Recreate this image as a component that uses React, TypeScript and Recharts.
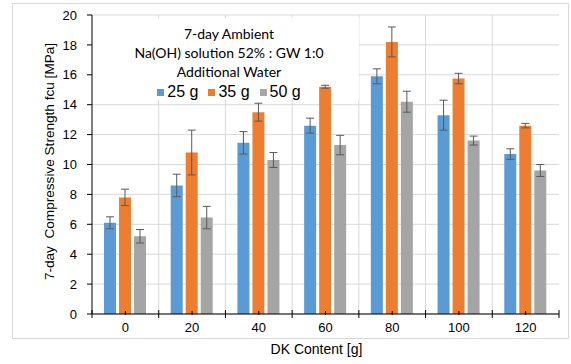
import React from 'react';
import { ComposedChart, Bar, ErrorBar, XAxis, YAxis, CartesianGrid, Legend, ReferenceArea } from 'recharts';

const categories = ['0', '20', '40', '60', '80', '100', '120'];
const water25 = [6.1, 8.6, 11.45, 12.6, 15.9, 13.3, 10.7];
const water35 = [7.8, 10.8, 13.5, 15.2, 18.2, 15.75, 12.6];
const water50 = [5.2, 6.45, 10.3, 11.3, 14.2, 11.6, 9.6];
const err25 = [0.4, 0.75, 0.75, 0.5, 0.5, 1.0, 0.35];
const err35 = [0.55, 1.5, 0.6, 0.1, 1.0, 0.35, 0.15];
const err50 = [0.45, 0.75, 0.5, 0.65, 0.7, 0.3, 0.4];
const yTicks = [0, 2, 4, 6, 8, 10, 12, 14, 16, 18, 20];
const minorTicks = Array.from({ length: 51 }, (_, i) => Math.round(i * 4) / 10);
const titleLines = ['7-day Ambient', 'Na(OH) solution 52% : GW 1:0', 'Additional Water'];
const seriesNames = ['25 g', '35 g', '50 g'];
const colors = ['#5B9BD5', '#ED7D31', '#A5A5A5'];

const data = categories.map((c, i) => ({
  dk: c,
  s25: water25[i],
  s35: water35[i],
  s50: water50[i],
  e25: err25[i],
  e35: err35[i],
  e50: err50[i],
}));

const XTick = (props: any) => {
  const { x, y, payload, index } = props;
  const half = payload.offset || 0;
  return (
    <g>
      <line x1={x} x2={x} y1={y - 3} y2={y + 1} stroke="#000" />
      <line x1={x - half} x2={x - half} y1={y - 4} y2={y + 4} stroke="#000" />
      {index === categories.length - 1 && (
        <line x1={x + half} x2={x + half} y1={y - 4} y2={y + 4} stroke="#000" />
      )}
      <text x={x} y={y + 18} textAnchor="middle" fontSize={13} fill="#000">
        {payload.value}
      </text>
    </g>
  );
};

const LegendBox = () => (
  <div style={{ textAlign: 'center', color: '#000' }}>
    {titleLines.map((t) => (
      <div key={t} style={{ fontFamily: 'Lato, sans-serif', fontSize: 14, lineHeight: '19px' }}>{t}</div>
    ))}
    <div style={{ fontFamily: '"Liberation Sans", Arial, sans-serif', fontSize: 16, lineHeight: '21px' }}>
      {seriesNames.map((n, i) => (
        <span key={n} style={{ marginLeft: i === 0 ? 0 : 10 }}>
          <span style={{ display: 'inline-block', width: 7, height: 7, background: colors[i], marginRight: 3, verticalAlign: 'middle' }} />
          {n}
        </span>
      ))}
    </div>
  </div>
);

export default function App() {
  return (
    <div style={{ position: 'absolute', left: 0, top: 0, width: 571, height: 364, background: '#fff', fontFamily: '"Liberation Sans", Arial, sans-serif' }}>
      <div style={{ position: 'absolute', left: 12, top: 3, width: 555, height: 334, border: '1px solid #d9d9d9' }} />
      <ComposedChart
        width={571}
        height={364}
        data={data}
        margin={{ top: 15, right: 12, left: 0, bottom: 20 }}
        barGap={3}
        barCategoryGap="18%"
      >
        <CartesianGrid
          stroke="#d9d9d9"
          strokeWidth={1}
          horizontalValues={yTicks}
          verticalCoordinatesGenerator={({ offset }: any) =>
            categories.slice(1).map((_, i) => offset.left + ((i + 1) * offset.width) / categories.length)
          }
        />
        <ReferenceArea x1="0" x2="60" y1={14.35} y2={19.8} fill="#fff" fillOpacity={1} stroke="none" />
        <XAxis
          dataKey="dk"
          height={30}
          axisLine={{ stroke: '#000' }}
          tickLine={false}
          tickSize={0}
          tickMargin={0}
          interval={0}
          tick={<XTick />}
          label={({ viewBox }: any) => (
            <text x={viewBox.x + viewBox.width / 2 - 9} y={viewBox.y + 40} textAnchor="middle" fontSize={14} fill="#000">
              DK Content [g]
            </text>
          )}
        />
        <XAxis xAxisId="top" dataKey="dk" orientation="top" height={0} tick={false} tickLine={false} axisLine={{ stroke: '#000' }} />
        <YAxis
          domain={[0, 20]}
          ticks={yTicks}
          width={92}
          axisLine={{ stroke: '#000' }}
          tickLine={{ stroke: '#000' }}
          tickSize={5}
          tickMargin={10}
          tick={{ fontSize: 13, fill: '#000' }}
          label={({ viewBox }: any) => (
            <text
              x={49}
              y={viewBox.y + viewBox.height / 2 - 3}
              transform={`rotate(-90, 49, ${viewBox.y + viewBox.height / 2 - 3})`}
              textAnchor="middle"
              dominantBaseline="central"
              fontSize={13.6}
              fill="#000"
            >
              {'7-day\u00A0 Compressive Strength fcu [MPa]'}
            </text>
          )}
        />
        <YAxis
          yAxisId="minor"
          domain={[0, 20]}
          ticks={minorTicks}
          width={0}
          mirror
          axisLine={false}
          tick={false}
          tickLine={{ stroke: '#000' }}
          tickSize={4}
        />
        <YAxis yAxisId="right" orientation="right" domain={[0, 20]} width={0} tick={false} tickLine={false} axisLine={{ stroke: '#000' }} />
        <Legend
          layout="horizontal"
          verticalAlign="middle"
          align="center"
          content={<LegendBox />}
          wrapperStyle={{ left: 100, top: 24, width: 258 }}
        />
        <Bar dataKey="s25" name={seriesNames[0]} fill={colors[0]} barSize={12} isAnimationActive={false}>
          <ErrorBar dataKey="e25" width={4} stroke="#595959" strokeWidth={1} direction="y" />
        </Bar>
        <Bar dataKey="s35" name={seriesNames[1]} fill={colors[1]} barSize={12} isAnimationActive={false}>
          <ErrorBar dataKey="e35" width={4} stroke="#595959" strokeWidth={1} direction="y" />
        </Bar>
        <Bar dataKey="s50" name={seriesNames[2]} fill={colors[2]} barSize={12} isAnimationActive={false}>
          <ErrorBar dataKey="e50" width={4} stroke="#595959" strokeWidth={1} direction="y" />
        </Bar>
      </ComposedChart>
    </div>
  );
}
